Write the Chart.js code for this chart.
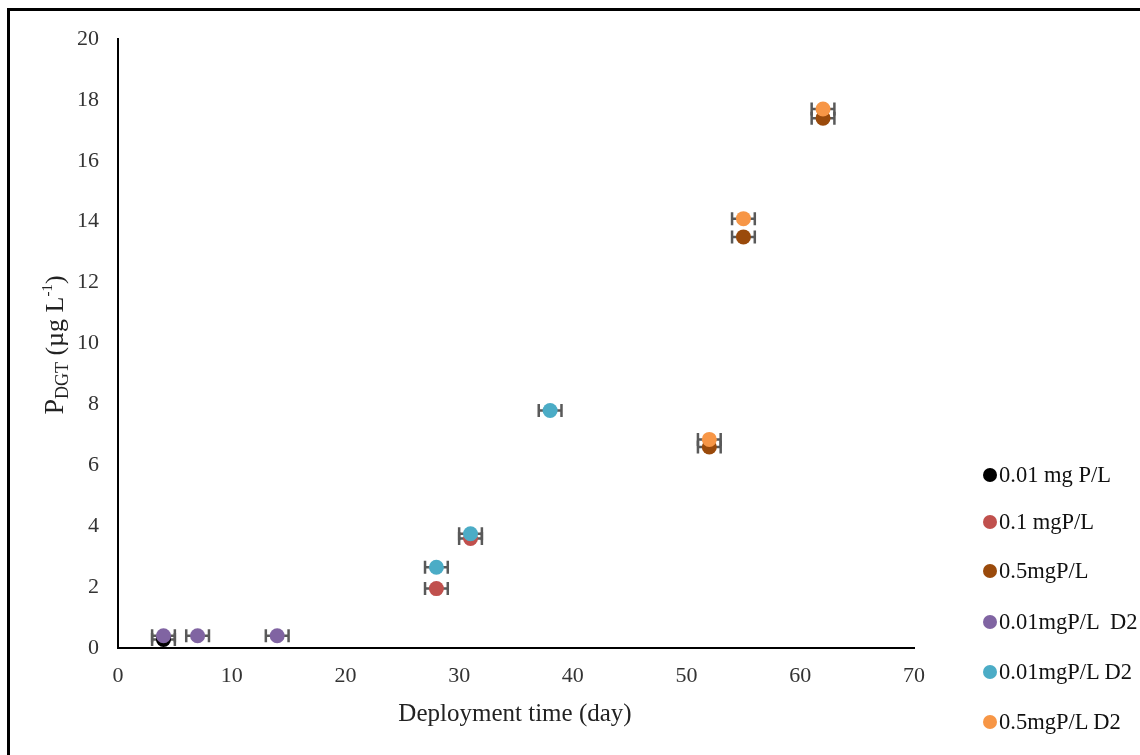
<!DOCTYPE html>
<html>
<head>
<meta charset="utf-8">
<script src="https://cdn.jsdelivr.net/npm/chart.js@4.4.0/dist/chart.umd.min.js"></script>
<style>
  html, body { margin: 0; padding: 0; background: #fff; overflow: hidden; }
  #wrap { position: relative; width: 1140px; height: 755px; }
  #frame { position: absolute; left: 7px; top: 8px; width: 1200px; height: 800px;
           border-left: 3px solid #000; border-top: 3px solid #000; box-sizing: border-box; pointer-events: none; }
  #legend { position: absolute; left: 983px; top: 460px; font-family: "Liberation Serif", serif;
            font-size: 22.5px; color: #111; white-space: pre; }
  #legend div { position: absolute; left: 0; height: 26px; line-height: 26px; }
  #legend span.dot { display: inline-block; width: 14px; height: 14px; border-radius: 50%;
                     vertical-align: 0px; margin-right: 2px; }
</style>
</head>
<body>
<div id="wrap">
  <canvas id="chart" width="1140" height="755"></canvas>
  <div id="frame"></div>
  <div id="legend"></div>
</div>
<script>
const seriesNames = ['0.01 mg P/L', '0.1 mgP/L', '0.5mgP/L', '0.01mgP/L  D2', '0.01mgP/L D2', '0.5mgP/L D2'];
const seriesColors = ['#000000', '#C0504D', '#9A4A0B', '#8064A2', '#4BACC6', '#F79646'];

// deployment time (day) and P_DGT (ug/L) for each series
const days001 = [4];
const vals001 = [0.28];
const days01 = [28, 31];
const vals01 = [1.95, 3.6];
const days05 = [52, 55, 62];
const vals05 = [6.6, 13.5, 17.4];
const days001D2a = [4, 7, 14];
const vals001D2a = [0.4, 0.4, 0.4];
const days001D2b = [28, 31, 38];
const vals001D2b = [2.65, 3.75, 7.8];
const days05D2 = [52, 55, 62];
const vals05D2 = [6.85, 14.1, 17.7];
const dayError = 1;

const xTicks = [0, 10, 20, 30, 40, 50, 60, 70];
const yTicks = [0, 2, 4, 6, 8, 10, 12, 14, 16, 18, 20];

const allDays = [days001, days01, days05, days001D2a, days001D2b, days05D2];
const allVals = [vals001, vals01, vals05, vals001D2a, vals001D2b, vals05D2];

const datasets = seriesNames.map((name, i) => ({
    label: name,
    data: allDays[i].map((d, j) => ({ x: d, y: allVals[i][j] })),
    backgroundColor: seriesColors[i],
    borderWidth: 0,
    pointRadius: 7.5,
    pointHoverRadius: 7.5,
    order: seriesNames.length - 1 - i
}));

const serif = '"Liberation Serif", "Times New Roman", serif';

const errorBars = {
    id: 'errorBars',
    beforeDatasetsDraw(chart) {
        const ctx = chart.ctx;
        const xs = chart.scales.x;
        const ys = chart.scales.y;
        ctx.save();
        ctx.strokeStyle = '#595959';
        ctx.lineWidth = 2.5;
        chart.data.datasets.forEach(ds => {
            ds.data.forEach(p => {
                const x1 = xs.getPixelForValue(p.x - dayError);
                const x2 = xs.getPixelForValue(p.x + dayError);
                const y = ys.getPixelForValue(p.y);
                ctx.beginPath();
                ctx.moveTo(x1, y); ctx.lineTo(x2, y);
                ctx.moveTo(x1, y - 6.5); ctx.lineTo(x1, y + 6.5);
                ctx.moveTo(x2, y - 6.5); ctx.lineTo(x2, y + 6.5);
                ctx.stroke();
            });
        });
        ctx.restore();
    }
};

const axisTitles = {
    id: 'axisTitles',
    afterDraw(chart) {
        const ctx = chart.ctx;
        const area = chart.chartArea;
        ctx.save();
        ctx.fillStyle = '#222';
        // x title
        ctx.font = '25px ' + serif;
        ctx.textAlign = 'center';
        ctx.textBaseline = 'middle';
        ctx.fillText('Deployment time (day)', (area.left + area.right) / 2 - 1, 714);

        // y title with subscript and superscript
        ctx.translate(63, 345);
        ctx.rotate(-Math.PI / 2);
        ctx.textAlign = 'left';
        ctx.textBaseline = 'alphabetic';
        const parts = [
            { t: 'P', f: '28px ', dy: 0 },
            { t: 'DGT', f: '18px ', dy: 5 },
            { t: ' (\u00b5g L', f: '26px ', dy: 0 },
            { t: '-1', f: '15px ', dy: -11 },
            { t: ')', f: '26px ', dy: 0 }
        ];
        let total = 0;
        parts.forEach(p => { ctx.font = p.f + serif; total += ctx.measureText(p.t).width; });
        let x = -total / 2;
        parts.forEach(p => {
            ctx.font = p.f + serif;
            ctx.fillText(p.t, x, p.dy);
            x += ctx.measureText(p.t).width;
        });
        ctx.restore();
    }
};

new Chart(document.getElementById('chart'), {
    type: 'scatter',
    data: { datasets: datasets },
    options: {
        responsive: false,
        animation: false,
        layout: { padding: { left: 0, top: 39, right: 226, bottom: 0 } },
        plugins: {
            legend: { display: false },
            tooltip: { enabled: false }
        },
        scales: {
            x: {
                type: 'linear',
                min: 0,
                max: 70,
                afterFit: s => { s.height = 107; },
                afterBuildTicks: s => { s.ticks = xTicks.map(v => ({ value: v })); },
                grid: { display: false, drawTicks: false },
                border: { display: true, color: '#000', width: 2 },
                ticks: { color: '#333', padding: 15, font: { family: serif, size: 22 } }
            },
            y: {
                type: 'linear',
                min: 0,
                max: 20,
                afterFit: s => { s.width = 118; },
                afterBuildTicks: s => { s.ticks = yTicks.map(v => ({ value: v })); },
                grid: { display: false, drawTicks: false },
                border: { display: true, color: '#000', width: 2 },
                ticks: { color: '#333', padding: 19, font: { family: serif, size: 22 } }
            }
        }
    },
    plugins: [errorBars, axisTitles]
});

const legendEl = document.getElementById('legend');
const legendRows = [475, 522, 571, 622, 672, 722];
seriesNames.forEach((name, i) => {
    const row = document.createElement('div');
    row.style.top = (legendRows[i] - 460 - 13) + 'px';
    row.innerHTML = '<span class="dot" style="background:' + seriesColors[i] + '"></span>' + name;
    legendEl.appendChild(row);
});
</script>
</body>
</html>
